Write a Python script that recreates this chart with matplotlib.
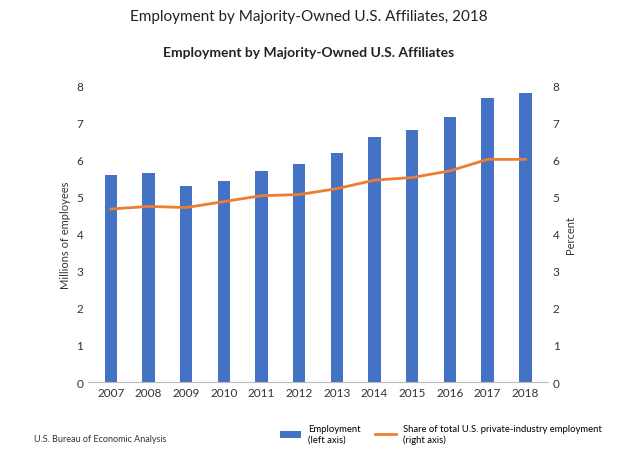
import matplotlib
matplotlib.use("Agg")
import matplotlib.pyplot as plt
import numpy as np

plt.rcParams['font.family'] = ['Lato', 'DejaVu Sans']
BLUE = "#4472c4"; ORANGE = "#ed7d31"

years = [2007, 2008, 2009, 2010, 2011, 2012, 2013, 2014, 2015, 2016, 2017, 2018]
employment = [5.58, 5.63, 5.28, 5.42, 5.70, 5.89, 6.17, 6.62, 6.81, 7.15, 7.66, 7.80]
share = [4.67, 4.74, 4.71, 4.87, 5.03, 5.06, 5.22, 5.45, 5.52, 5.70, 6.01, 6.01]

fig = plt.figure(figsize=(6.17, 4.56), dpi=100)
ax = fig.add_axes([0.143, 0.16, 0.745, 0.65])
x = np.arange(len(years))
b = ax.bar(x, employment, 0.33, color=BLUE, label="Employment\n(left axis)")
ax2 = ax.twinx()
l, = ax2.plot(x, share, color=ORANGE, lw=2,
              label="Share of total U.S. private-industry employment\n(right axis)")
for a in (ax, ax2):
    a.set_ylim(0, 8); a.set_yticks(range(9))
    a.tick_params(length=0, labelsize=8.5, colors='#333')
    for s in a.spines.values(): s.set_visible(False)
ax.spines['bottom'].set_visible(True); ax.spines['bottom'].set_color('#bbb')
ax.set_xlim(-0.6, len(years) - 0.4)
ax.set_xticks(x); ax.set_xticklabels(years)
ax.set_ylabel("Millions of employees", fontsize=8, color='#333')
ax2.set_ylabel("Percent", fontsize=8, color='#333')
fig.text(0.5, 0.955, "Employment by Majority-Owned U.S. Affiliates, 2018",
         ha='center', fontsize=11, color='#222')
fig.text(0.5, 0.875, "Employment by Majority-Owned U.S. Affiliates",
         ha='center', fontsize=10, fontweight='bold', color='#222')
fig.text(0.055, 0.03, "U.S. Bureau of Economic Analysis", fontsize=6.5, color='#333')
fig.legend(handles=[b, l], loc='lower left', bbox_to_anchor=(0.44, 0.005), ncol=2,
           frameon=False, fontsize=6.8, handlelength=2.2, columnspacing=1.5)
fig.savefig("out.png", dpi=100)
